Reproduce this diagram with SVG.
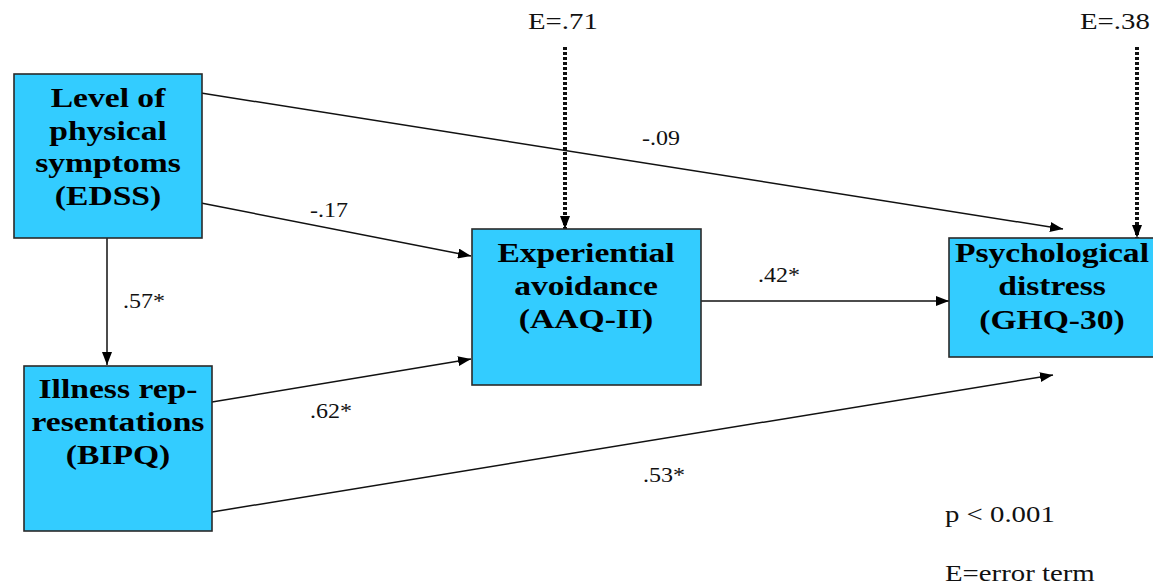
<svg xmlns="http://www.w3.org/2000/svg" width="1153" height="587" viewBox="0 0 1153 587">
<style>
.box{fill:#33CCFF;stroke:#2a2a2a;stroke-width:1.6}
.nt{font-family:"Liberation Serif","Times New Roman",serif;font-weight:bold;font-size:28px;fill:#000;text-anchor:middle}
.lbl{font-family:"Liberation Serif","Times New Roman",serif;font-size:20px;fill:#111}
.big{font-family:"Liberation Serif","Times New Roman",serif;font-size:24px;fill:#111}
.edge{stroke:#111;stroke-width:1.5;fill:none}
.err{stroke:#111;stroke-width:4;stroke-dasharray:3 2;fill:none}
</style>
<defs>
<marker id="ah" markerUnits="userSpaceOnUse" markerWidth="14" markerHeight="10" refX="13" refY="5" orient="auto">
<path d="M0,0 L13,5 L0,10 z" fill="#000"/>
</marker>
</defs>
<g id="connectors">
<line class="edge" x1="201" y1="93" x2="1063" y2="229" marker-end="url(#ah)"/>
<line class="edge" x1="201" y1="203" x2="471" y2="256" marker-end="url(#ah)"/>
<line class="edge" x1="212" y1="402" x2="471" y2="359" marker-end="url(#ah)"/>
<line class="edge" x1="212" y1="512" x2="1053" y2="375" marker-end="url(#ah)"/>
<line class="edge" x1="701" y1="301" x2="949" y2="301" marker-end="url(#ah)"/>
<line class="edge" x1="107" y1="238" x2="107" y2="365" marker-end="url(#ah)"/>
<line class="err" x1="565" y1="47" x2="565" y2="229" marker-end="url(#ah)"/>
<line class="err" x1="1137" y1="47" x2="1137" y2="238" marker-end="url(#ah)"/>
<text class="lbl" transform="translate(642 145) scale(1.2 1)">-.09</text>
<text class="lbl" transform="translate(310 217) scale(1.2 1)">-.17</text>
<text class="lbl" transform="translate(310 418) scale(1.2 1)">.62*</text>
<text class="lbl" transform="translate(643 482) scale(1.2 1)">.53*</text>
<text class="lbl" transform="translate(758 282) scale(1.2 1)">.42*</text>
<text class="lbl" transform="translate(123 308) scale(1.2 1)">.57*</text>
</g>
<g id="e1"><text class="big" transform="translate(528 29) scale(1.2 1)">E=.71</text></g>
<g id="e2"><text class="big" transform="translate(1080 29) scale(1.2 1)">E=.38</text></g>
<g id="edss">
<rect class="box" x="14" y="74" width="188" height="164"/>
<g transform="translate(108 0) scale(1.2 1)">
<text class="nt" x="0" y="107">Level of</text>
<text class="nt" x="0" y="140">physical</text>
<text class="nt" x="0" y="172">symptoms</text>
<text class="nt" x="0" y="205">(EDSS)</text>
</g>
</g>
<g id="bipq">
<rect class="box" x="24" y="366" width="188" height="165"/>
<g transform="translate(118 0) scale(1.2 1)">
<text class="nt" x="0" y="398">Illness rep-</text>
<text class="nt" x="0" y="431">resentations</text>
<text class="nt" x="0" y="464">(BIPQ)</text>
</g>
</g>
<g id="aaq">
<rect class="box" x="472" y="229" width="229" height="156"/>
<g transform="translate(586 0) scale(1.2 1)">
<text class="nt" x="0" y="262">Experiential</text>
<text class="nt" x="0" y="295">avoidance</text>
<text class="nt" x="0" y="328">(AAQ-II)</text>
</g>
</g>
<g id="ghq">
<rect class="box" x="949" y="238" width="212" height="119"/>
<g transform="translate(1052 0) scale(1.2 1)">
<text class="nt" x="0" y="262">Psychological</text>
<text class="nt" x="0" y="295">distress</text>
<text class="nt" x="0" y="329">(GHQ-30)</text>
</g>
</g>
<g id="legend">
<text class="big" transform="translate(945 522) scale(1.2 1)">p &lt; 0.001</text>
<text class="big" transform="translate(945 581) scale(1.2 1)">E=error term</text>
</g>
</svg>
